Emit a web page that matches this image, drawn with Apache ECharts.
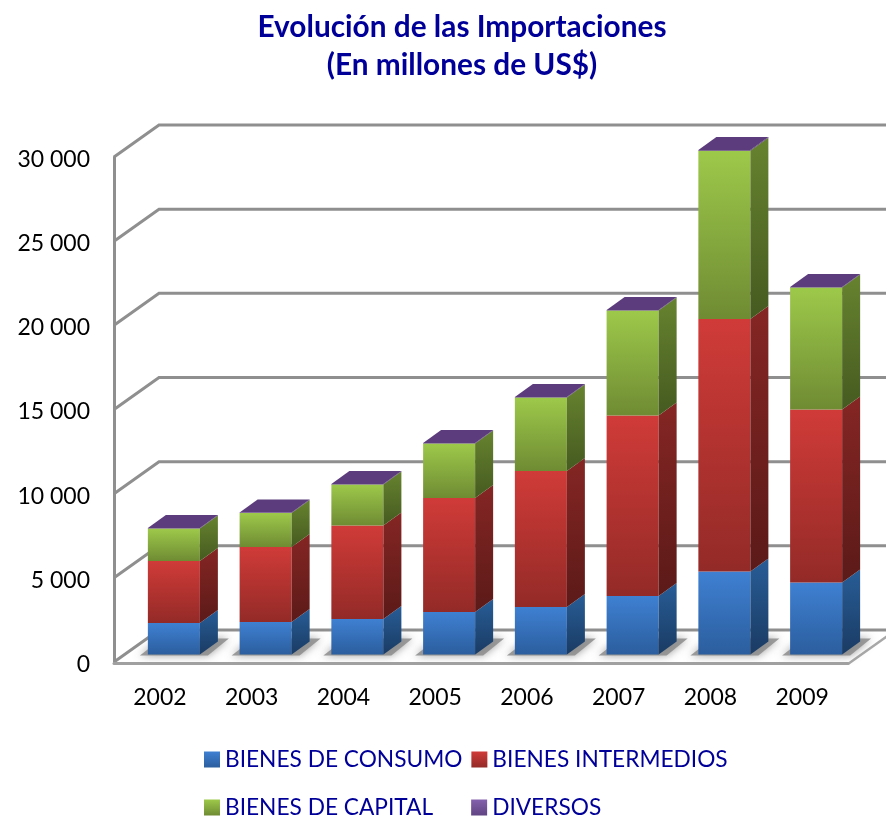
<!DOCTYPE html>
<html>
<head>
<meta charset="utf-8">
<style>html,body{margin:0;padding:0;background:#fff}#c{width:886px;height:818px}</style>
<script src="https://cdn.jsdelivr.net/npm/echarts@6/dist/echarts.min.js"></script>
</head>
<body>
<div id="c"></div>
<script>
const years = ['2002','2003','2004','2005','2006','2007','2008','2009'];
const consumo = [1870,1930,2110,2525,2820,3475,4930,4275];
const intermedios = [3680,4455,5555,6770,8080,10725,15000,10275];
const capital = [1930,2020,2435,3235,4365,6235,10000,7245];
const diversos = [30,30,30,30,30,30,40,30];
const yTicks = [0,5000,10000,15000,20000,25000,30000];
const seriesNames = ['BIENES DE CONSUMO','BIENES INTERMEDIOS','BIENES DE CAPITAL','DIVERSOS'];
const seriesValues = [consumo,intermedios,capital,diversos];

const grad = (a,b)=>({type:'linear',x:0,y:0,x2:0,y2:1,colorStops:[{offset:0,color:a},{offset:1,color:b}]});
const front = [grad('#3f80d2','#2b5e9e'),grad('#d03b38','#932a27'),grad('#9dc94a','#6f8b33'),grad('#5c3c7c','#5c3c7c')];
const side  = [grad('#285d97','#1a3b63'),grad('#852624','#5b1a18'),grad('#67832f','#455a20'),grad('#46305f','#46305f')];
const legendFill = [grad('#3f80d2','#2b5e9e'),grad('#d03b38','#932a27'),grad('#9dc94a','#6f8b33'),grad('#8561ad','#5f4482')];

const WALL='#8f8f8f';
const DEPTH_X=45, DEPTH_Y=32;   // wall depth
const BAR_DX=14, BAR_DY=-7.5;   // bars stand inside the floor
const SIDE_X=18, SIDE_Y=13;
const BAR_RATIO=0.567;

function poly(points,fill,extra){
  return Object.assign({type:'polygon',shape:{points},style:{fill},silent:true},extra||{});
}
function renderWall(params,api){
  const p=api.coord([0,api.value(0)]);
  const sys=params.coordSys;
  const x0=sys.x, x1=sys.x+sys.width;
  const kids=[{type:'polyline',shape:{points:[[x0,p[1]],[x0+DEPTH_X,p[1]-DEPTH_Y],[x1+DEPTH_X,p[1]-DEPTH_Y]]},
    style:{stroke:WALL,lineWidth:3,fill:null}}];
  if(api.value(0)===0){
    kids.push({type:'polyline',shape:{points:[[x1,p[1]+2],[x1+DEPTH_X,p[1]-DEPTH_Y+2]]},style:{stroke:'#a8a8a8',lineWidth:2.4,fill:null}});
  }
  return {type:'group',children:kids};
}
function renderShadow(params,api){
  const c=api.coord([api.value(0),0]);
  const w=api.size([1,0])[0]*BAR_RATIO;
  const x=c[0]-w/2+BAR_DX, y=c[1]+BAR_DY;
  const fill='rgba(140,140,140,0.85)';
  return poly([[x-8,y+1],[x+w+8,y+1],[x+w+29,y-16],[x+14,y-16]],fill,
    {style:{fill,shadowBlur:8,shadowColor:'rgba(140,140,140,1)'}});
}
function makeRender(k){
  return function(params,api){
    const i=api.value(0);
    const a=api.coord([i,api.value(1)]), b=api.coord([i,api.value(2)]);
    const w=api.size([1,0])[0]*BAR_RATIO;
    const x=a[0]-w/2+BAR_DX, y0=a[1]+BAR_DY, y1=b[1]+BAR_DY;
    const kids=[
      poly([[x,y1],[x+w,y1],[x+w,y0],[x,y0]],front[k]),
      poly([[x+w,y1],[x+w+SIDE_X,y1-SIDE_Y],[x+w+SIDE_X,y0-SIDE_Y],[x+w,y0]],side[k])
    ];
    if(k===seriesValues.length-1){
      kids.push(poly([[x,y1],[x+SIDE_X,y1-SIDE_Y],[x+w+SIDE_X,y1-SIDE_Y],[x+w,y1]],'#5c3c7c'));
    }
    return {type:'group',children:kids};
  };
}
const running=years.map(()=>0);
const barSeries=seriesNames.map((name,k)=>{
  const data=years.map((y,i)=>{const b=running[i];running[i]+=seriesValues[k][i];return [i,b,running[i]];});
  return {type:'custom',name,z:5,renderItem:makeRender(k),data,encode:{x:0,y:[1,2]},itemStyle:{color:legendFill[k]},silent:true};
});
const legendText={color:'#000099',fontFamily:'Lato',fontSize:22.7};
const legendItem=k=>({name:seriesNames[k],icon:'rect',itemStyle:{color:legendFill[k]}});
const chart=echarts.init(document.getElementById('c'),null,{renderer:'canvas'});
chart.setOption({
  animation:false,
  backgroundColor:'#fff',
  title:{text:'Evolución de las Importaciones\n(En millones de US$)',left:457,top:3,textAlign:'center',
    textStyle:{color:'#000099',fontFamily:'Lato',fontWeight:'bold',fontSize:29.8,lineHeight:38}},
  grid:{left:114,right:38,top:157,bottom:156,containLabel:false},
  legend:[
    {left:204,top:748,padding:0,itemWidth:16,itemHeight:16,itemGap:9,textStyle:legendText,data:[legendItem(0),legendItem(1)],selectedMode:false},
    {left:204,top:796,padding:0,itemWidth:16,itemHeight:16,itemGap:38,textStyle:legendText,data:[legendItem(2),legendItem(3)],selectedMode:false}
  ],
  xAxis:{type:'category',data:years,axisTick:{show:false},offset:1.5,
    axisLine:{show:true,onZero:false,lineStyle:{color:'#a0a0a0',width:3}},
    axisLabel:{color:'#000',fontFamily:'Lato',fontSize:23,margin:23},z:3},
  yAxis:{type:'value',min:0,max:30000,interval:5000,
    axisLine:{show:true,lineStyle:{color:WALL,width:3}},axisTick:{show:false},splitLine:{show:false},
    axisLabel:{color:'#000',fontFamily:'Lato',fontSize:23,margin:24,verticalAlign:'top',lineHeight:5,
      formatter:v=>String(v).replace(/\B(?=(\d{3})+$)/g,' ')}},
  series:[
    {type:'custom',name:'wall',z:1,renderItem:renderWall,data:yTicks.map(v=>[v]),encode:{y:0},silent:true},
    {type:'custom',name:'shadow',z:2,renderItem:renderShadow,data:years.map((y,i)=>[i]),encode:{x:0},silent:true}
  ].concat(barSeries)
});
</script>
</body>
</html>
